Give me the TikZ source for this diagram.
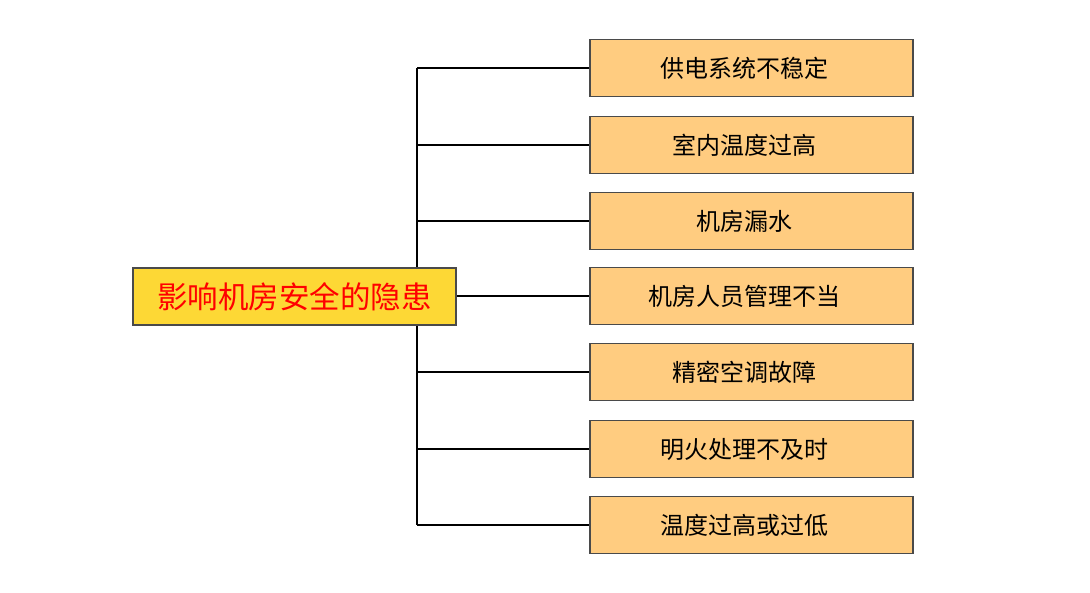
\documentclass[tikz,border=0pt]{standalone}
\usepackage{fontspec}
\setmainfont{Noto Sans CJK SC}
\usepackage{tikz}
\usetikzlibrary{positioning,calc,backgrounds}
\definecolor{rootfill}{HTML}{FDD835}
\definecolor{leaffill}{HTML}{FFCC80}
\definecolor{boxline}{HTML}{4A4A4A}
\tikzset{
  rootbox/.style={draw=boxline,line width=1.2pt,fill=rootfill,minimum width=323pt,minimum height=57pt,inner sep=0pt,text=red,font=\fontsize{30.5}{32}\selectfont},
  leafbox/.style={draw=boxline,line width=1.2pt,fill=leaffill,minimum width=323pt,minimum height=57pt,inner sep=0pt,font=\fontsize{24}{26}\selectfont,execute at end node={\hspace{14pt}}},
  branch/.style={line width=2pt,black}
}
\begin{document}
\begin{tikzpicture}[x=1pt,y=-1pt]
  \useasboundingbox (0,0) rectangle (1090,593);
  \node[rootbox] (root) at (294.5,296.5) {影响机房安全的隐患};
  \coordinate (spine) at (417,0);
  \foreach \i/\y/\txt in {1/68/供电系统不稳定,2/145/室内温度过高,3/221/机房漏水,4/296/机房人员管理不当,5/372/精密空调故障,6/449/明火处理不及时,7/525/温度过高或过低}{
    \node[leafbox] (l\i) at (751.5,\y) {\txt};
  }
  \begin{scope}[on background layer]
    \draw[branch] (l1.west -| spine) -- (l7.west -| spine);
    \foreach \i in {1,2,3,5,6,7}{
      \draw[branch] (l\i.west -| spine) -- (l\i.west);
    }
    \draw[branch] (root.east) -- (root.east -| l4.west);
  \end{scope}
\end{tikzpicture}
\end{document}
